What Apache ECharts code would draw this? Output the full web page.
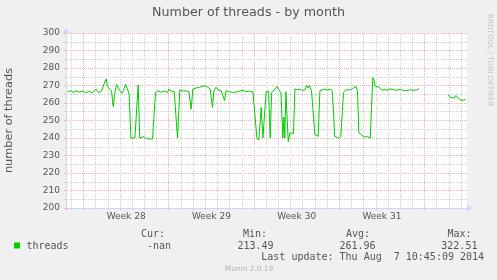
<!DOCTYPE html>
<html>
<head>
<meta charset="utf-8">
<script src="https://cdn.jsdelivr.net/npm/echarts@6/dist/echarts.min.js"></script>
<style>
html,body{margin:0;padding:0;background:#F0F0F0;}
#c{width:497px;height:280px;}
</style>
</head>
<body>
<div id="c"></div>
<script>
// x positions in days since Mon 7 Jul 2014 00:00 (start of Week 28)
var days = [
  -1.31,-1.03,-0.82,-0.62,-0.35,-0.08,0.19,0.47,0.74,1.02,1.23,1.48,1.64,1.75,1.86,1.97,2.13,2.30,2.44,2.58,
  2.71,2.85,2.99,3.15,3.32,3.45,3.59,3.75,3.89,4.02,4.22,4.38,4.49,4.62,4.76,4.98,5.15,5.39,5.67,5.80,
  5.91,6.13,6.35,6.63,6.90,
  7.01,7.20,7.45,7.61,7.72,7.80,7.91,8.16,8.43,8.65,8.84,8.98,9.25,9.52,9.80,10.02,10.21,10.40,10.59,10.70,
  10.87,11.06,11.31,11.47,11.58,11.69,11.99,12.26,12.54,12.81,13.09,13.36,13.63,13.91,14.07,14.24,14.40,14.59,14.73,14.89,
  15.00,15.20,15.33,15.45,
  15.49,15.66,15.90,16.04,16.21,16.37,16.45,16.53,16.62,16.70,16.81,16.95,17.08,17.24,17.36,17.57,17.77,17.96,18.18,18.34,
  18.45,18.56,18.72,18.88,19.00,19.16,19.27,19.41,19.60,19.82,20.03,20.25,20.42,20.53,20.62,20.77,20.96,21.13,21.24,21.35,
  21.51,21.67,21.86,22.06,22.22,22.38,22.50,22.61,22.78,22.96,23.15,23.32,23.48,
  23.55,23.65,23.76,23.86,23.95,24.09,24.28,24.50,24.69,24.91,25.10,25.26,25.45,25.73,26.00,26.28,26.55,26.82,27.10,27.37,
  27.54,27.60,
  29.92,30.11,30.25,30.44,30.58,30.71,30.88,31.02,31.18,31.37
];
var threads = [
  266.4,267,266,267,266.2,266.8,266,266.6,265.8,268,266,266.8,267,272,273.8,269.5,268,267,258,266,
  270.5,270.3,267,265.5,268,270.5,268.5,265,240,239.5,240,239.8,270.4,240,240,240.8,239.6,239.5,239.5,239.6,
  266,267,266.2,266.8,266,
  268,266.8,266.5,266,240,241,267.5,266.8,267,266.5,256.5,268,268.6,269,269.6,269.8,269,268,257.5,266.5,
  269,267.5,267,266.5,261.5,267,266.5,266,266.3,266.8,267.3,266.5,266.8,266.3,266.8,240,238.8,257.5,240,240,
  266.5,266.8,240,266,
  266.5,267.5,269.5,267.5,266,240,252,240,266.5,265.5,238,243,242,242.5,268,267.5,268,267.2,267.6,270,
  268.5,270,267,266.8,242,241.5,241,267,267.5,268,267.3,268,267,255,241,240.5,240,241,241,266,
  267.5,266.5,267.5,268,267.5,269.5,266.5,243,242,241,240.5,240.8,240,
  240,258,274.5,273,269.6,270,269,267.2,267.8,267.2,268,267,267.8,267.2,267.8,267.1,267,267.6,267.2,267.5,
  268.2,null,
  264.8,263.3,262.8,262.8,264.3,264,262,261.3,261.5,262.2
];
var weekStarts = [0, 7, 14, 21, 28];
var weekLabels = ['Week 28', 'Week 29', 'Week 30', 'Week 31'];
var yTicks = [200, 210, 220, 230, 240, 250, 260, 270, 280, 290, 300];
var statHeaders = ['Cur:', 'Min:', 'Avg:', 'Max:'];
var statValues = ['-nan', '213.49', '261.96', '322.51'];
var seriesName = 'threads';
var titleText = 'Number of threads - by month';
var yName = 'number of threads';
var lastUpdate = 'Last update: Thu Aug  7 10:45:09 2014';
var footer = 'Munin 2.0.19';
var watermark = 'RRDTOOL / TOBI OETIKER';

var FONT = 'DejaVu Sans';
var MONO = 'DejaVu Sans Mono';
var TXT = '#555555';
var RED = '#eeb0b0';
var GRAY = '#d0d0d0';
var AXIS = '#CFD6F8';

var X_MIN = -1.437, X_MAX = 31.49;

var chart = echarts.init(document.getElementById('c'), null, {renderer: 'canvas'});
var data = days.map(function (d, i) { return [d, threads[i]]; });
var labelPos = weekLabels.map(function (l, i) { return weekStarts[i] + 3.5; });

var statX = [141, 243, 346, 447.5];
var valX = [147, 237.5, 339.5, 441.3];
var graphics = [
  {type: 'rect', shape: {x: 14, y: 242.5, width: 6, height: 6}, style: {fill: '#00CC00'}},
  {type: 'text', x: 26.5, y: 246, style: {text: seriesName, font: '10px ' + MONO, fill: TXT, verticalAlign: 'middle'}},
  {type: 'text', x: 261.3, y: 257.7, style: {text: lastUpdate, font: '10px ' + MONO, fill: TXT, verticalAlign: 'middle'}},
  {type: 'text', x: 249, y: 269, style: {text: footer, font: '7.4px ' + FONT, fill: '#b4b4b4', align: 'center', verticalAlign: 'middle'}},
  {type: 'text', x: 489.5, y: 14, rotation: -Math.PI / 2, style: {text: watermark, font: '7.2px ' + FONT, fill: '#c4c4c4', align: 'left', verticalAlign: 'middle'}}
];
statHeaders.forEach(function (h, i) {
  graphics.push({type: 'text', x: statX[i], y: 234, style: {text: h, font: '10px ' + MONO, fill: TXT, verticalAlign: 'middle'}});
  graphics.push({type: 'text', x: valX[i], y: 246, style: {text: statValues[i], font: '10px ' + MONO, fill: TXT, verticalAlign: 'middle'}});
});

chart.setOption({
  animation: false,
  backgroundColor: '#F0F0F0',
  title: {
    text: titleText, left: 'center', top: 6, padding: 0,
    textStyle: {fontFamily: FONT, fontSize: 12.7, fontWeight: 'normal', color: TXT}
  },
  grid: {
    left: 66, right: 30, top: 33, bottom: 72, containLabel: false, outerBoundsMode: 'none',
    show: true, backgroundColor: '#FFFFFF', borderWidth: 0
  },
  xAxis: [{
    type: 'value', min: X_MIN, max: X_MAX, minInterval: 1, maxInterval: 1, splitNumber: 33,
    axisLine: {show: true, onZero: false, lineStyle: {color: AXIS, width: 1}, symbol: ['none', 'arrow'], symbolSize: [6, 6], symbolOffset: [0, 5]},
    axisTick: {show: true, length: 2, lineStyle: {color: GRAY}},
    splitLine: {show: true, showMinLine: false, showMaxLine: false, lineStyle: {color: GRAY, type: [1, 1], width: 1}},
    axisLabel: {
      show: true, customValues: labelPos, margin: 4,
      fontFamily: FONT, fontSize: 9, color: TXT,
      formatter: function (v) {
        for (var i = 0; i < labelPos.length; i++) { if (Math.abs(labelPos[i] - v) < 0.01) return weekLabels[i]; }
        return '';
      }
    }
  }, {
    // week grid (same extent, expressed in weeks)
    type: 'value', position: 'bottom', min: X_MIN / 7, max: X_MAX / 7, minInterval: 1, maxInterval: 1, splitNumber: 5,
    axisLine: {show: false, onZero: false}, axisLabel: {show: false},
    axisTick: {show: true, length: 2, lineStyle: {color: RED}},
    splitLine: {show: true, showMinLine: false, showMaxLine: false, lineStyle: {color: RED, type: [1, 1], width: 1}}
  }],
  yAxis: {
    type: 'value', min: yTicks[0], max: yTicks[yTicks.length - 1], interval: 10,
    name: yName, nameLocation: 'middle', nameGap: 51, nameRotate: 90,
    nameTextStyle: {fontFamily: FONT, fontSize: 11.3, color: TXT},
    axisLine: {show: true, onZero: false, lineStyle: {color: AXIS, width: 1}, symbol: ['none', 'arrow'], symbolSize: [6, 6], symbolOffset: [0, 5]},
    axisTick: {show: true, length: 2, lineStyle: {color: RED}},
    minorTick: {show: true, splitNumber: 2, length: 2, lineStyle: {color: GRAY}},
    splitLine: {show: true, showMinLine: false, lineStyle: {color: RED, type: [1, 1], width: 1}},
    minorSplitLine: {show: true, lineStyle: {color: GRAY, type: [1, 1], width: 1}},
    axisLabel: {margin: 6, fontFamily: FONT, fontSize: 9, color: TXT}
  },
  series: [{
    name: seriesName, type: 'line', data: data, xAxisIndex: 0, showSymbol: false, connectNulls: false,
    lineStyle: {color: '#00CC00', width: 1}, itemStyle: {color: '#00CC00'}, z: 3
  }],
  graphic: graphics
});
</script>
</body>
</html>
